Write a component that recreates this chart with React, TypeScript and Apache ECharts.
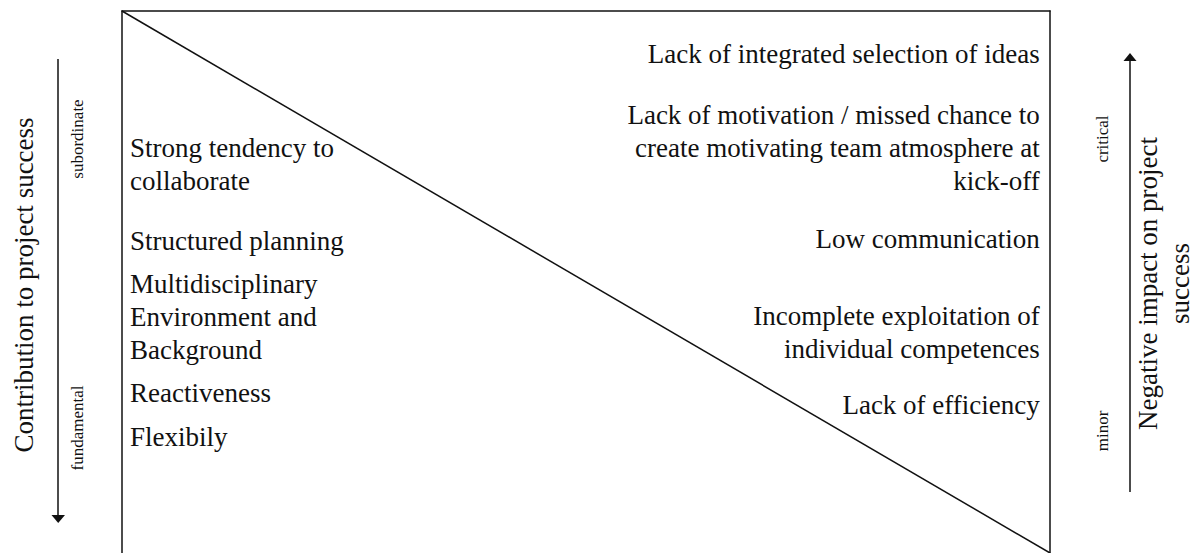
import React, { useEffect, useRef } from "react";
import * as echarts from "echarts";

// ---- data ----
const leftLabels = [
  "Strong tendency to\ncollaborate",
  "Structured planning",
  "Multidisciplinary\nEnvironment and\nBackground",
  "Reactiveness",
  "Flexibily",
];
const leftLevels = [71.7, 57.6, 43.5, 29.5, 21.4];

const rightLabels = [
  "Lack of integrated selection of ideas",
  "Lack of motivation / missed chance to\ncreate motivating team atmosphere at\nkick-off",
  "Low communication",
  "Incomplete exploitation of\nindividual competences",
  "Lack of efficiency",
];
const rightLevels = [92.1, 74.7, 57.9, 40.6, 27.3];

const diagonal = [
  [0, 100],
  [100, 0],
];

const leftAxisTitle = "Contribution to project success";
const rightAxisTitle = "Negative impact on project\nsuccess";
const leftEnds = ["subordinate", "fundamental"];
const rightEnds = ["critical", "minor"];

const LEFT_X = 0.86;
const RIGHT_X = 98.9;

const FONT = '"Liberation Serif", "Times New Roman", serif';
const INK = "#111";

export default function App() {
  const ref = useRef<HTMLDivElement>(null);

  useEffect(() => {
    if (!ref.current) return;
    const chart = echarts.init(ref.current, undefined, { renderer: "svg" });

    const axisBase = {
      type: "value" as const,
      min: 0,
      max: 100,
      axisTick: { show: false },
      axisLabel: { show: false },
      splitLine: { show: false },
    };
    const frameLine = { show: true, onZero: false, lineStyle: { color: INK, width: 1.5 } };

    const txt = (
      text: string,
      x: number,
      y: number,
      size: number,
      rot: number,
      align = "center",
      lh?: number
    ) => ({
      type: "text",
      x,
      y,
      rotation: rot,
      silent: true,
      style: {
        text,
        fontFamily: FONT,
        fontSize: size,
        lineHeight: lh ?? size * 1.2,
        fill: INK,
        align,
        verticalAlign: "middle",
      },
    });

    chart.setOption({
      animation: false,
      backgroundColor: "#fff",
      grid: { left: 122, right: 146, top: 11, bottom: 0 },
      xAxis: { ...axisBase, position: "top", axisLine: frameLine },
      yAxis: [
        { ...axisBase, position: "left", axisLine: frameLine },
        { ...axisBase, position: "right", axisLine: frameLine },
      ],
      series: [
        {
          type: "line",
          data: diagonal,
          symbol: "none",
          silent: true,
          lineStyle: { color: INK, width: 1.5 },
        },
      ],
    });

    // place the factor texts through the grid's own scales
    const toPx = (v: number[]) => chart.convertToPixel({ gridIndex: 0 }, v) as number[];
    const factorTexts: any[] = [];
    leftLabels.forEach((t, i) => {
      const [px, py] = toPx([LEFT_X, leftLevels[i]]);
      factorTexts.push(txt(t, px, py, 27, 0, "left", 33));
    });
    rightLabels.forEach((t, i) => {
      const [px, py] = toPx([RIGHT_X, rightLevels[i]]);
      factorTexts.push(txt(t, px, py, 27, 0, "right", 33));
    });

    chart.setOption({
      graphic: [
        // left arrow (pointing down)
        { type: "line", silent: true, shape: { x1: 58, y1: 59, x2: 58, y2: 516 }, style: { stroke: INK, lineWidth: 1.5 } },
        { type: "polygon", silent: true, shape: { points: [[51.5, 515], [65, 515], [58.2, 523]] }, style: { fill: INK } },
        // right arrow (pointing up)
        { type: "line", silent: true, shape: { x1: 1130, y1: 492, x2: 1130, y2: 60 }, style: { stroke: INK, lineWidth: 1.5 } },
        { type: "polygon", silent: true, shape: { points: [[1123.5, 61], [1136.5, 61], [1130, 53]] }, style: { fill: INK } },
        // axis titles
        txt(leftAxisTitle, 24, 285, 27, Math.PI / 2),
        txt(rightAxisTitle, 1163.5, 283.5, 27, Math.PI / 2, "center", 32),
        // end labels
        txt(leftEnds[0], 77.3, 139, 17, Math.PI / 2),
        txt(leftEnds[1], 77.3, 428, 17, Math.PI / 2),
        txt(rightEnds[0], 1102, 139, 17, Math.PI / 2),
        txt(rightEnds[1], 1102, 431, 17, Math.PI / 2),
        ...factorTexts,
      ],
    });

    return () => chart.dispose();
  }, []);

  return (
    <div
      ref={ref}
      style={{ position: "absolute", left: 0, top: 0, width: 1196, height: 553, background: "#fff" }}
    />
  );
}
